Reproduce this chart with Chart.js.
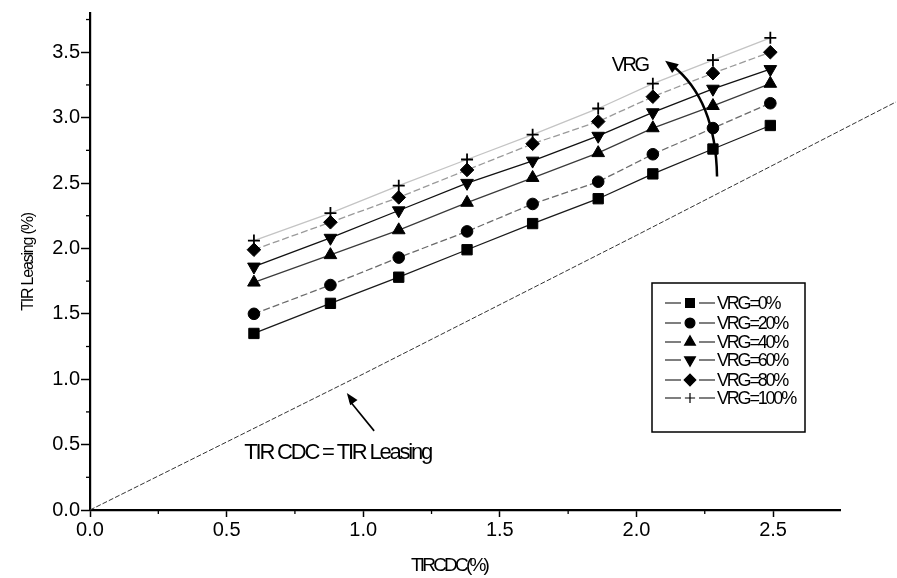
<!DOCTYPE html>
<html>
<head>
<meta charset="utf-8">
<script src="https://cdn.jsdelivr.net/npm/chart.js@4.4.1/dist/chart.umd.min.js"></script>
<style>
html,body{margin:0;padding:0;background:#fff;}
canvas{display:block;}
</style>
</head>
<body>
<canvas id="c" width="897" height="578"></canvas>
<script>
// ---- data ----
const tirCdc = [0.60, 0.88, 1.13, 1.38, 1.62, 1.86, 2.06, 2.28, 2.49];
const seriesNames = ['VRG=0%', 'VRG=20%', 'VRG=40%', 'VRG=60%', 'VRG=80%', 'VRG=100%'];
const vrg0   = [1.35, 1.58, 1.78, 1.99, 2.19, 2.38, 2.57, 2.76, 2.94];
const vrg20  = [1.50, 1.72, 1.93, 2.13, 2.34, 2.51, 2.72, 2.92, 3.11];
const vrg40  = [1.74, 1.95, 2.14, 2.35, 2.54, 2.73, 2.92, 3.09, 3.26];
const vrg60  = [1.86, 2.08, 2.29, 2.50, 2.67, 2.86, 3.04, 3.22, 3.37];
const vrg80  = [1.99, 2.20, 2.39, 2.60, 2.80, 2.97, 3.16, 3.34, 3.50];
const vrg100 = [2.06, 2.27, 2.48, 2.68, 2.87, 3.07, 3.26, 3.44, 3.61];
const diagX = [0, 1.0, 2.0, 2.95];
const diagY = [0, 1.04, 2.10, 3.12];
const xTickLabels = ['0.0', '0.5', '1.0', '1.5', '2.0', '2.5'];
const yTickLabels = ['0.0', '0.5', '1.0', '1.5', '2.0', '2.5', '3.0', '3.5'];

const FONT = "'Liberation Sans', Arial, Helvetica, sans-serif";
const toPts = (xs, ys) => xs.map((x, i) => ({x: x, y: ys[i]}));

const styles = [
  {pointStyle: 'rect', radius: 7.3, rotation: 0, line: '#1a1a1a', dash: []},
  {pointStyle: 'circle', radius: 5.8, rotation: 0, line: '#6a6a6a', dash: [7, 3]},
  {pointStyle: 'triangle', radius: 7.3, rotation: 0, line: '#3a3a3a', dash: []},
  {pointStyle: 'triangle', radius: 7.3, rotation: 180, line: '#111111', dash: []},
  {pointStyle: 'rectRot', radius: 6.8, rotation: 0, line: '#9a9a9a', dash: [7, 3]},
  {pointStyle: 'cross', radius: 6, rotation: 0, line: '#c4c4c4', dash: []}
];
const allSeries = [vrg0, vrg20, vrg40, vrg60, vrg80, vrg100];

const datasets = allSeries.map((vals, i) => ({
  label: seriesNames[i],
  data: toPts(tirCdc, vals),
  borderColor: styles[i].line,
  borderWidth: 1.3,
  borderDash: styles[i].dash,
  pointStyle: styles[i].pointStyle,
  pointRadius: styles[i].radius,
  pointRotation: styles[i].rotation,
  pointBackgroundColor: '#000',
  pointBorderColor: '#000',
  pointBorderWidth: i === 5 ? 1.8 : 1,
  showLine: true,
  tension: 0
}));
datasets.push({
  label: 'diag',
  data: toPts(diagX, diagY),
  borderColor: '#333',
  borderWidth: 1,
  borderDash: [5, 2],
  pointRadius: 0,
  showLine: true,
  clip: false
});

function txt(ctx, s, x, y, size, spacing, align, baseline) {
  ctx.save();
  ctx.font = size + 'px ' + FONT;
  ctx.fillStyle = '#000';
  try { ctx.letterSpacing = spacing + 'px'; } catch (e) {}
  ctx.textAlign = align || 'center';
  ctx.textBaseline = baseline || 'middle';
  ctx.fillText(s, x, y);
  ctx.restore();
}
function arrowHead(ctx, fx, fy, tx, ty, len, wid) {
  const a = Math.atan2(ty - fy, tx - fx);
  ctx.beginPath();
  ctx.moveTo(tx, ty);
  ctx.lineTo(tx - len * Math.cos(a) + wid * Math.sin(a), ty - len * Math.sin(a) - wid * Math.cos(a));
  ctx.lineTo(tx - len * Math.cos(a) - wid * Math.sin(a), ty - len * Math.sin(a) + wid * Math.cos(a));
  ctx.closePath();
  ctx.fill();
}

const decor = {
  id: 'decor',
  afterDraw(chart) {
    const ctx = chart.ctx;
    const xs = chart.scales.x, ys = chart.scales.y;
    const X = v => xs.getPixelForValue(v), Y = v => ys.getPixelForValue(v);
    const ca = chart.chartArea;
    ctx.save();
    ctx.strokeStyle = '#000';
    ctx.fillStyle = '#000';
    // minor ticks
    ctx.lineWidth = 1.3;
    for (let v = 0.25; v < xs.max; v += 0.5) {
      ctx.beginPath(); ctx.moveTo(X(v), ca.bottom); ctx.lineTo(X(v), ca.bottom + 4); ctx.stroke();
    }
    for (let v = 0.25; v < ys.max; v += 0.5) {
      ctx.beginPath(); ctx.moveTo(ca.left, Y(v)); ctx.lineTo(ca.left - 4, Y(v)); ctx.stroke();
    }
    // axis titles
    txt(ctx, 'TIRCDC(%)', 449, 566, 19, -2.8);
    ctx.save();
    ctx.translate(29, 262);
    ctx.rotate(-Math.PI / 2);
    txt(ctx, 'TIR Leasing (%)', 0, 0, 16, -1.2);
    ctx.restore();

    // VRG curved arrow
    ctx.lineWidth = 2.5;
    const sx = X(2.295), sy = Y(2.55), cx = X(2.29), cy = Y(3.14), ex = X(2.13), ey = Y(3.40);
    ctx.beginPath(); ctx.moveTo(sx, sy); ctx.quadraticCurveTo(cx, cy, ex, ey); ctx.stroke();
    arrowHead(ctx, cx, cy, X(2.105), Y(3.435), 13, 5.5);
    txt(ctx, 'VRG', X(1.975), Y(3.40), 20, -2.5);

    // TIR CDC = TIR Leasing arrow + text
    ctx.lineWidth = 1.6;
    const ax0 = X(1.04), ay0 = Y(0.605), ax1 = X(0.94), ay1 = Y(0.895);
    ctx.beginPath(); ctx.moveTo(ax0, ay0); ctx.lineTo(ax1 + 3, ay1 + 8); ctx.stroke();
    arrowHead(ctx, ax0, ay0, ax1, ay1, 12, 4.5);
    txt(ctx, 'TIR CDC = TIR Leasing', X(0.565), Y(0.435), 22, -2.2, 'left');

    // legend box
    const lx = 652, ly = 283, lw = 153, lh = 149;
    ctx.lineWidth = 1.5;
    ctx.strokeRect(lx, ly, lw, lh);
    const rowY = [303, 323, 342, 360, 380, 398];
    chart.data.datasets.slice(0, 6).forEach((ds, i) => {
      const y = rowY[i];
      ctx.lineWidth = 1.2;
      ctx.strokeStyle = '#000';
      ctx.beginPath(); ctx.moveTo(665, y); ctx.lineTo(681, y); ctx.moveTo(699, y); ctx.lineTo(715, y); ctx.stroke();
      ctx.fillStyle = '#000';
      Chart.helpers.drawPoint(ctx, {pointStyle: ds.pointStyle, radius: ds.pointRadius * 0.85, rotation: ds.pointRotation, borderWidth: ds.pointBorderWidth}, 690, y);
      txt(ctx, ds.label, 717, y + 1, 18, -2.2, 'left');
    });
    ctx.restore();
  }
};

const setTicks = labels => s => { s.ticks = labels.map((_, i) => ({value: i * 0.5})); };

new Chart(document.getElementById('c'), {
  type: 'scatter',
  data: {datasets: datasets},
  options: {
    responsive: false,
    animation: false,
    devicePixelRatio: 1,
    layout: {padding: {left: 0, top: 13, right: 57, bottom: 0}},
    plugins: {legend: {display: false}, tooltip: {enabled: false}},
    scales: {
      x: {
        type: 'linear', min: 0, max: 2.745,
        border: {color: '#000', width: 2.2},
        grid: {drawOnChartArea: false, drawTicks: true, tickLength: 7, color: '#000', tickWidth: 1.5},
        ticks: {color: '#000', padding: 1, maxRotation: 0, autoSkip: false,
                font: {family: FONT, size: 20},
                callback: (v) => xTickLabels[Math.round(v * 2)] ?? ''},
        afterBuildTicks: setTicks(xTickLabels),
        afterFit: s => { s.height = 68; }
      },
      y: {
        type: 'linear', min: 0, max: 3.8,
        border: {color: '#000', width: 2.2},
        grid: {drawOnChartArea: false, drawTicks: true, tickLength: 9, color: '#000', tickWidth: 1.5},
        ticks: {color: '#000', padding: 1, autoSkip: false,
                font: {family: FONT, size: 20},
                callback: (v) => yTickLabels[Math.round(v * 2)] ?? ''},
        afterBuildTicks: setTicks(yTickLabels),
        afterFit: s => { s.width = 90; }
      }
    }
  },
  plugins: [decor]
});
</script>
</body>
</html>
